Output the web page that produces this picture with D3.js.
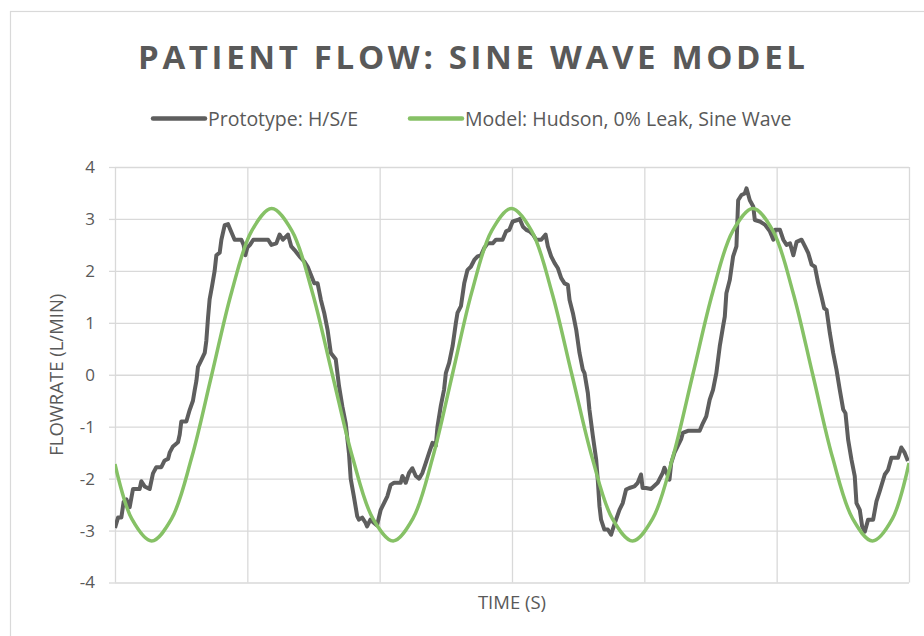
<!DOCTYPE html>
<html>
<head>
<meta charset="utf-8">
<script src="https://cdn.jsdelivr.net/npm/d3@7"></script>
<style>
  html, body { margin: 0; padding: 0; background: #ffffff; }
</style>
</head>
<body>
<div id="chart-container"></div>
<script>
// Time axis: one unit per vertical gridline (no labels shown on the reference)
const xTicks = [0, 1, 2, 3, 4, 5, 6];
const yTicks = [-4, -3, -2, -1, 0, 1, 2, 3, 4];

const seriesNames = ["Prototype: H/S/E", "Model: Hudson, 0% Leak, Sine Wave"];

// Prototype: H/S/E
const protoTime = [
    0, 0.023, 0.048, 0.065, 0.086, 0.111, 0.136, 0.186, 0.199, 0.224, 0.262, 0.287, 0.312, 0.350,
    0.375, 0.401, 0.413, 0.438, 0.476, 0.489, 0.501, 0.539, 0.564, 0.589, 0.602, 0.615, 0.627,
    0.652, 0.678, 0.690, 0.703, 0.715, 0.733, 0.753, 0.766, 0.791, 0.804, 0.829, 0.854, 0.879,
    0.904, 0.955, 0.972, 0.985, 1.000, 1.020, 1.045, 1.157, 1.182, 1.219, 1.244, 1.269, 1.307,
    1.332, 1.357, 1.394, 1.431, 1.456, 1.481, 1.506, 1.531, 1.556, 1.581, 1.606, 1.631, 1.668,
    1.693, 1.718, 1.743, 1.768, 1.781, 1.805, 1.830, 1.843, 1.868, 1.893, 1.905, 1.930, 1.955,
    1.980, 2.008, 2.033, 2.058, 2.083, 2.109, 2.159, 2.172, 2.197, 2.222, 2.247, 2.273, 2.298,
    2.323, 2.348, 2.374, 2.399, 2.424, 2.437, 2.462, 2.487, 2.500, 2.525, 2.551, 2.576, 2.588,
    2.614, 2.639, 2.664, 2.689, 2.715, 2.740, 2.765, 2.790, 2.816, 2.854, 2.879, 2.929, 2.955,
    2.980, 3.005, 3.043, 3.058, 3.083, 3.108, 3.133, 3.158, 3.183, 3.221, 3.254, 3.271, 3.296,
    3.322, 3.347, 3.372, 3.397, 3.422, 3.435, 3.460, 3.485, 3.510, 3.535, 3.548, 3.573, 3.585,
    3.611, 3.636, 3.648, 3.661, 3.673, 3.698, 3.724, 3.749, 3.761, 3.786, 3.812, 3.837, 3.862,
    3.887, 3.925, 3.950, 3.975, 3.987, 4.013, 4.050, 4.101, 4.139, 4.152, 4.190, 4.203, 4.228,
    4.253, 4.278, 4.291, 4.329, 4.418, 4.443, 4.468, 4.494, 4.519, 4.544, 4.570, 4.595, 4.608,
    4.620, 4.646, 4.671, 4.696, 4.709, 4.734, 4.759, 4.772, 4.797, 4.823, 4.835, 4.873, 4.911,
    4.949, 4.975, 4.987, 5.025, 5.050, 5.075, 5.101, 5.126, 5.151, 5.188, 5.214, 5.239, 5.264,
    5.289, 5.314, 5.339, 5.359, 5.377, 5.402, 5.427, 5.452, 5.477, 5.503, 5.520, 5.540, 5.565,
    5.590, 5.603, 5.628, 5.646, 5.666, 5.691, 5.729, 5.754, 5.779, 5.817, 5.842, 5.867, 5.917,
    5.942, 5.967, 5.992
];
const protoFlow = [
    -2.95, -2.75, -2.75, -2.45, -2.4, -2.55, -2.2, -2.2, -2.05, -2.15, -2.2, -1.9, -1.78, -1.78,
    -1.65, -1.62, -1.5, -1.38, -1.3, -1.15, -0.9, -0.9, -0.68, -0.5, -0.3, -0.12, 0.15,
    0.28, 0.42, 0.65, 1.1, 1.45, 1.7, 2.0, 2.3, 2.35, 2.6, 2.88, 2.9, 2.75,
    2.6, 2.6, 2.5, 2.3, 2.45, 2.5, 2.6, 2.6, 2.5, 2.53, 2.7, 2.6, 2.7,
    2.47, 2.4, 2.28, 2.18, 2.08, 1.92, 1.76, 1.76, 1.44, 1.19, 0.87, 0.42, 0.3,
    -0.22, -0.61, -0.93, -1.51, -2.0, -2.34, -2.72, -2.79, -2.75, -2.85, -2.92, -2.79, -2.85,
    -2.9, -2.6, -2.47, -2.34, -2.12, -2.08, -2.08, -1.95, -2.08, -1.89, -1.8, -1.95, -2.0,
    -1.89, -1.7, -1.5, -1.31, -1.37, -1.0, -0.6, -0.28, 0.03, 0.23, 0.55, 1.0, 1.19,
    1.32, 1.76, 2.02, 2.08, 2.21, 2.28, 2.3, 2.44, 2.53, 2.53, 2.6, 2.6, 2.76,
    2.79, 2.95, 2.98, 3.0, 2.85, 2.79, 2.76, 2.7, 2.6, 2.6, 2.7, 2.47, 2.28,
    2.15, 2.05, 1.86, 1.76, 1.73, 1.44, 1.19, 0.87, 0.42, 0.1, 0.03, -0.35, -0.67,
    -1.18, -1.63, -2.02, -2.53, -2.79, -2.98, -2.98, -3.08, -2.98, -2.79, -2.6, -2.47, -2.21,
    -2.18, -2.15, -2.08, -1.92, -2.18, -2.18, -2.2, -2.08, -1.89, -1.79, -2.02, -1.7, -1.5,
    -1.37, -1.24, -1.12, -1.08, -1.08, -0.93, -0.8, -0.48, -0.29, 0.03, 0.55, 0.93, 1.12,
    1.57, 1.83, 2.28, 2.47, 3.36, 3.46, 3.49, 3.59, 3.36, 3.24, 2.98, 2.95, 2.89,
    2.76, 2.6, 2.79, 2.79, 2.6, 2.5, 2.53, 2.3, 2.56, 2.6, 2.47, 2.34, 2.12,
    2.08, 1.76, 1.5, 1.28, 1.25, 0.8, 0.42, 0.1, -0.29, -0.67, -0.74, -1.25, -1.63,
    -1.95, -2.47, -2.6, -2.92, -3.02, -2.79, -2.79, -2.44, -2.24, -1.92, -1.83, -1.6, -1.6,
    -1.4, -1.5, -1.66
];

// Model: Hudson, 0% Leak, Sine Wave
const modelTime = [
    0, 0.126, 0.277, 0.428, 0.579, 0.731, 0.882, 1.033, 1.184, 1.337, 1.490, 1.643, 1.796, 1.949,
    2.102, 2.251, 2.400, 2.549, 2.697, 2.846, 2.995, 3.148, 3.300, 3.453, 3.606, 3.758, 3.911,
    4.063, 4.214, 4.366, 4.518, 4.669, 4.821, 4.972, 5.122, 5.273, 5.423, 5.574, 5.724, 5.875, 6.0
];
const modelFlow = [
    -1.72, -2.77, -3.2, -2.77, -1.6, 0, 1.6, 2.77, 3.2, 2.77, 1.6, 0, -1.6, -2.77,
    -3.2, -2.77, -1.6, 0, 1.6, 2.77, 3.2, 2.77, 1.6, 0, -1.6, -2.77, -3.2,
    -2.77, -1.6, 0, 1.6, 2.77, 3.2, 2.77, 1.6, 0, -1.6, -2.77, -3.2, -2.77, -1.7
];

function renderChart() {
    const container = document.getElementById("chart-container");

    // Set up dimensions
    const width = 924;
    const height = 636;
    const marginTop = 167;
    const marginRight = 15;
    const marginBottom = 53.5;
    const marginLeft = 115;

    const textColor = "#595959";
    const gridColor = "#d9d9d9";
    const protoColor = "#5e5e5e";
    const modelColor = "#86c166";
    const font = "'Open Sans', 'Noto Sans', sans-serif";

    const svg = d3.create("svg")
        .attr("viewBox", [0, 0, width, height])
        .attr("width", width)
        .attr("height", height)
        .style("font-family", font);

    svg.append("rect")
        .attr("width", width)
        .attr("height", height)
        .attr("fill", "#ffffff");

    // Chart frame (runs off the right and bottom edges)
    svg.append("rect")
        .attr("x", 10.5)
        .attr("y", 11.5)
        .attr("width", width)
        .attr("height", height)
        .attr("fill", "none")
        .attr("stroke", gridColor)
        .attr("stroke-width", 1.2);

    // Scales
    const x = d3.scaleLinear([0, 6], [marginLeft, width - marginRight]);
    const y = d3.scaleLinear([-4, 4], [height - marginBottom, marginTop]);

    // Gridlines
    svg.append("g")
        .attr("transform", `translate(0,${height - marginBottom})`)
        .call(d3.axisBottom(x).tickValues(xTicks).tickSize(-(height - marginBottom - marginTop)).tickFormat(""))
        .call(g => g.select(".domain").remove())
        .call(g => g.selectAll(".tick line").attr("stroke", gridColor).attr("stroke-width", 1.3));

    svg.append("g")
        .attr("transform", `translate(${marginLeft},0)`)
        .call(d3.axisLeft(y).tickValues(yTicks).tickSize(-(width - marginLeft - marginRight)).tickFormat(""))
        .call(g => g.select(".domain").remove())
        .call(g => g.selectAll(".tick line").attr("stroke", gridColor).attr("stroke-width", 1.3));

    // Y axis ticks and labels (plain hyphen for negatives, as in the reference)
    svg.append("g")
        .attr("transform", `translate(${marginLeft},0)`)
        .call(d3.axisLeft(y).tickValues(yTicks).tickSize(6).tickPadding(14).tickFormat(d => String(d)))
        .call(g => g.select(".domain").remove())
        .call(g => g.selectAll(".tick line").attr("stroke", gridColor).attr("stroke-width", 1.3))
        .call(g => g.selectAll(".tick text")
            .attr("fill", textColor)
            .style("font-family", font)
            .style("font-size", "17px"));

    // Lines
    svg.append("clipPath")
        .attr("id", "plot-clip")
        .append("rect")
        .attr("x", marginLeft)
        .attr("y", marginTop - 10)
        .attr("width", width - marginLeft - marginRight)
        .attr("height", height - marginBottom - marginTop + 20);

    const protoData = protoTime.map((t, i) => ({ t, v: protoFlow[i] }));
    const modelData = modelTime.map((t, i) => ({ t, v: modelFlow[i] }));

    const protoLine = d3.line()
        .x(d => x(d.t))
        .y(d => y(d.v));

    const modelLine = d3.line()
        .x(d => x(d.t))
        .y(d => y(d.v))
        .curve(d3.curveCatmullRom.alpha(0.5));

    svg.append("path")
        .datum(protoData)
        .attr("clip-path", "url(#plot-clip)")
        .attr("fill", "none")
        .attr("stroke", protoColor)
        .attr("stroke-width", 4)
        .attr("stroke-linejoin", "round")
        .attr("d", protoLine);

    svg.append("path")
        .datum(modelData)
        .attr("clip-path", "url(#plot-clip)")
        .attr("fill", "none")
        .attr("stroke", modelColor)
        .attr("stroke-width", 3.5)
        .attr("stroke-linejoin", "round")
        .attr("d", modelLine);

    // Title
    svg.append("text")
        .attr("x", 471.5)
        .attr("y", 69)
        .attr("text-anchor", "middle")
        .attr("fill", textColor)
        .attr("font-weight", "bold")
        .attr("font-size", "33px")
        .attr("textLength", 667)
        .attr("lengthAdjust", "spacing")
        .text("PATIENT FLOW: SINE WAVE MODEL");

    // Legend
    const legendItems = [
        { name: seriesNames[0], color: protoColor, x: 153, width: 4.5 },
        { name: seriesNames[1], color: modelColor, x: 410, width: 4.5 }
    ];

    const legend = svg.append("g")
        .selectAll("g")
        .data(legendItems)
        .join("g")
        .attr("transform", d => `translate(${d.x},118.5)`);

    legend.append("line")
        .attr("x1", 0)
        .attr("x2", 52)
        .attr("stroke", d => d.color)
        .attr("stroke-width", d => d.width)
        .attr("stroke-linecap", "round");

    legend.append("text")
        .attr("x", 55)
        .attr("y", 0)
        .attr("dy", "0.36em")
        .attr("fill", textColor)
        .attr("font-size", "19.5px")
        .text(d => d.name);

    // Axis titles
    svg.append("text")
        .attr("x", (marginLeft + width - marginRight) / 2)
        .attr("y", 609)
        .attr("text-anchor", "middle")
        .attr("fill", textColor)
        .attr("font-size", "18.5px")
        .text("TIME (S)");

    svg.append("text")
        .attr("transform", `translate(63,${(marginTop + height - marginBottom) / 2}) rotate(-90)`)
        .attr("text-anchor", "middle")
        .attr("fill", textColor)
        .attr("font-size", "18.5px")
        .text("FLOWRATE (L/MIN)");

    container.appendChild(svg.node());
}

renderChart();
</script>
</body>
</html>
